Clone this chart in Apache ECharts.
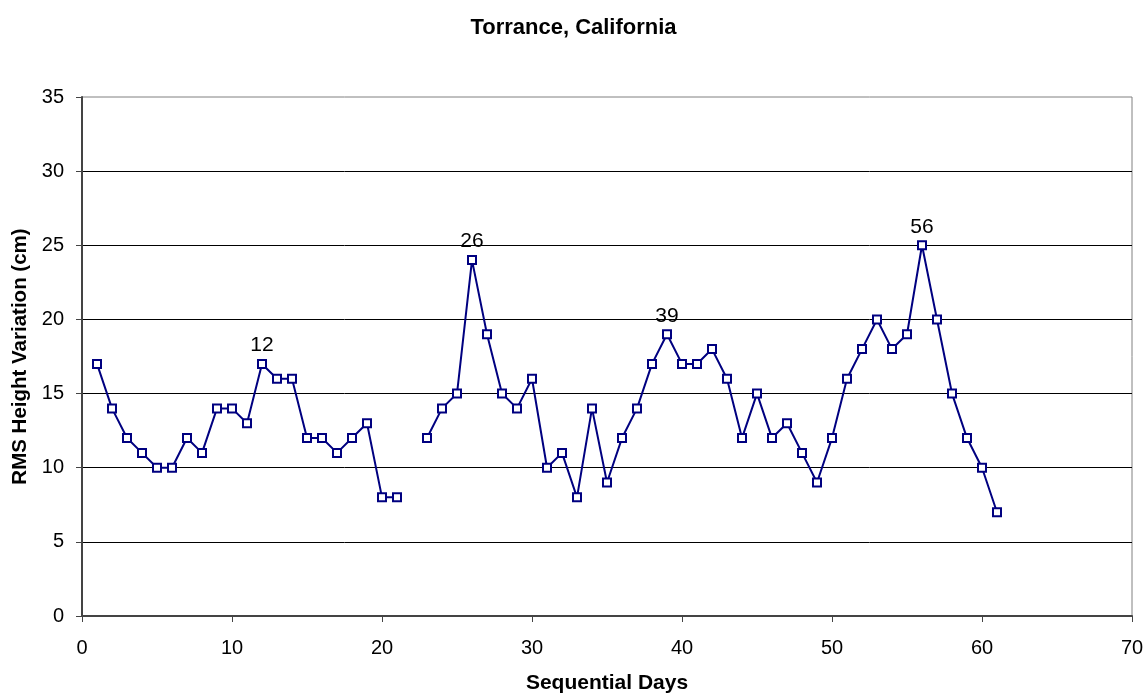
<!DOCTYPE html>
<html>
<head>
<meta charset="utf-8">
<script src="https://cdn.jsdelivr.net/npm/echarts@6/dist/echarts.min.js"></script>
<style>
	html, body { margin: 0; padding: 0; background: #fff; }
	#chartContainer { width: 1147px; height: 695px; }
</style>
</head>
<body>
<div id="chartContainer"></div>
<script>
var days = [1,2,3,4,5,6,7,8,9,10,11,12,13,14,15,16,17,18,19,20,21,22,23,24,25,26,27,28,29,30,
	31,32,33,34,35,36,37,38,39,40,41,42,43,44,45,46,47,48,49,50,51,52,53,54,55,56,57,58,59,60,61];
var rmsHeight = [17,14,12,11,10,10,12,11,14,14,13,17,16,16,12,12,11,12,13,8,8,null,12,14,15,24,19,15,14,16,
	10,11,8,14,9,12,14,17,19,17,17,18,16,12,15,12,13,11,9,12,16,18,20,18,19,25,20,15,12,10,7];
var labelledDays = [12, 26, 39, 56];

var FONT = 'Liberation Sans, Arial, sans-serif';

function init(){
	var myChart = echarts.init(document.getElementById('chartContainer'));
	var points = [];
	for(var i = 0;i<days.length;i++){
		var item = { value: [days[i], rmsHeight[i]] };
		if(labelledDays.indexOf(days[i]) >= 0){
			item.label = {
				show: true,
				position: 'top',
				distance: 3,
				formatter: String(days[i]),
				color: '#000',
				fontSize: 21,
				fontFamily: FONT
			};
		}
		points.push(item);
	}
	var option = {
		animation: false,
		backgroundColor: '#fff',
		title: {
			text: 'Torrance, California',
			left: 'center',
			top: 12,
			textStyle: {
				color: '#000',
				fontSize: 22,
				fontWeight: 'bold',
				fontFamily: FONT
			}
		},
		grid: {
			left: 82,
			right: 15,
			top: 97,
			bottom: 79,
			containLabel: false,
			outerBoundsMode: 'none',
			show: true,
			borderColor: '#808080',
			borderWidth: 1
		},
		xAxis: {
			type: 'value',
			min: 0,
			max: 70,
			interval: 10,
			name: 'Sequential Days',
			nameLocation: 'middle',
			nameGap: 57,
			nameTextStyle: {
				color: '#000',
				fontSize: 21,
				fontWeight: 'bold',
				fontFamily: FONT
			},
			axisLine: { lineStyle: { color: '#444', width: 2 } },
			axisTick: { show: true, length: 6, lineStyle: { color: '#444' } },
			axisLabel: {
				color: '#000',
				fontSize: 20,
				margin: 22,
				fontFamily: FONT
			},
			splitLine: { show: false }
		},
		yAxis: {
			type: 'value',
			min: 0,
			max: 35,
			interval: 5,
			name: 'RMS Height Variation (cm)',
			nameLocation: 'middle',
			nameGap: 50,
			nameTextStyle: {
				color: '#000',
				fontSize: 20.5,
				fontWeight: 'bold',
				fontFamily: FONT
			},
			axisLine: { show: true, lineStyle: { color: '#444', width: 2 } },
			axisTick: { show: true, length: 6, lineStyle: { color: '#444' } },
			axisLabel: {
				color: '#000',
				fontSize: 20,
				margin: 18,
				fontFamily: FONT
			},
			splitLine: {
				show: true,
				showMaxLine: false,
				lineStyle: { color: '#000', width: 1 }
			}
		},
		series: [{
			type: 'line',
			data: points,
			connectNulls: false,
			symbol: 'rect',
			symbolSize: 8,
			showAllSymbol: true,
			lineStyle: { color: '#000080', width: 2 },
			itemStyle: { color: '#fff', borderColor: '#000080', borderWidth: 2 }
		}]
	};
	myChart.setOption(option);
}
init();
</script>
</body>
</html>
